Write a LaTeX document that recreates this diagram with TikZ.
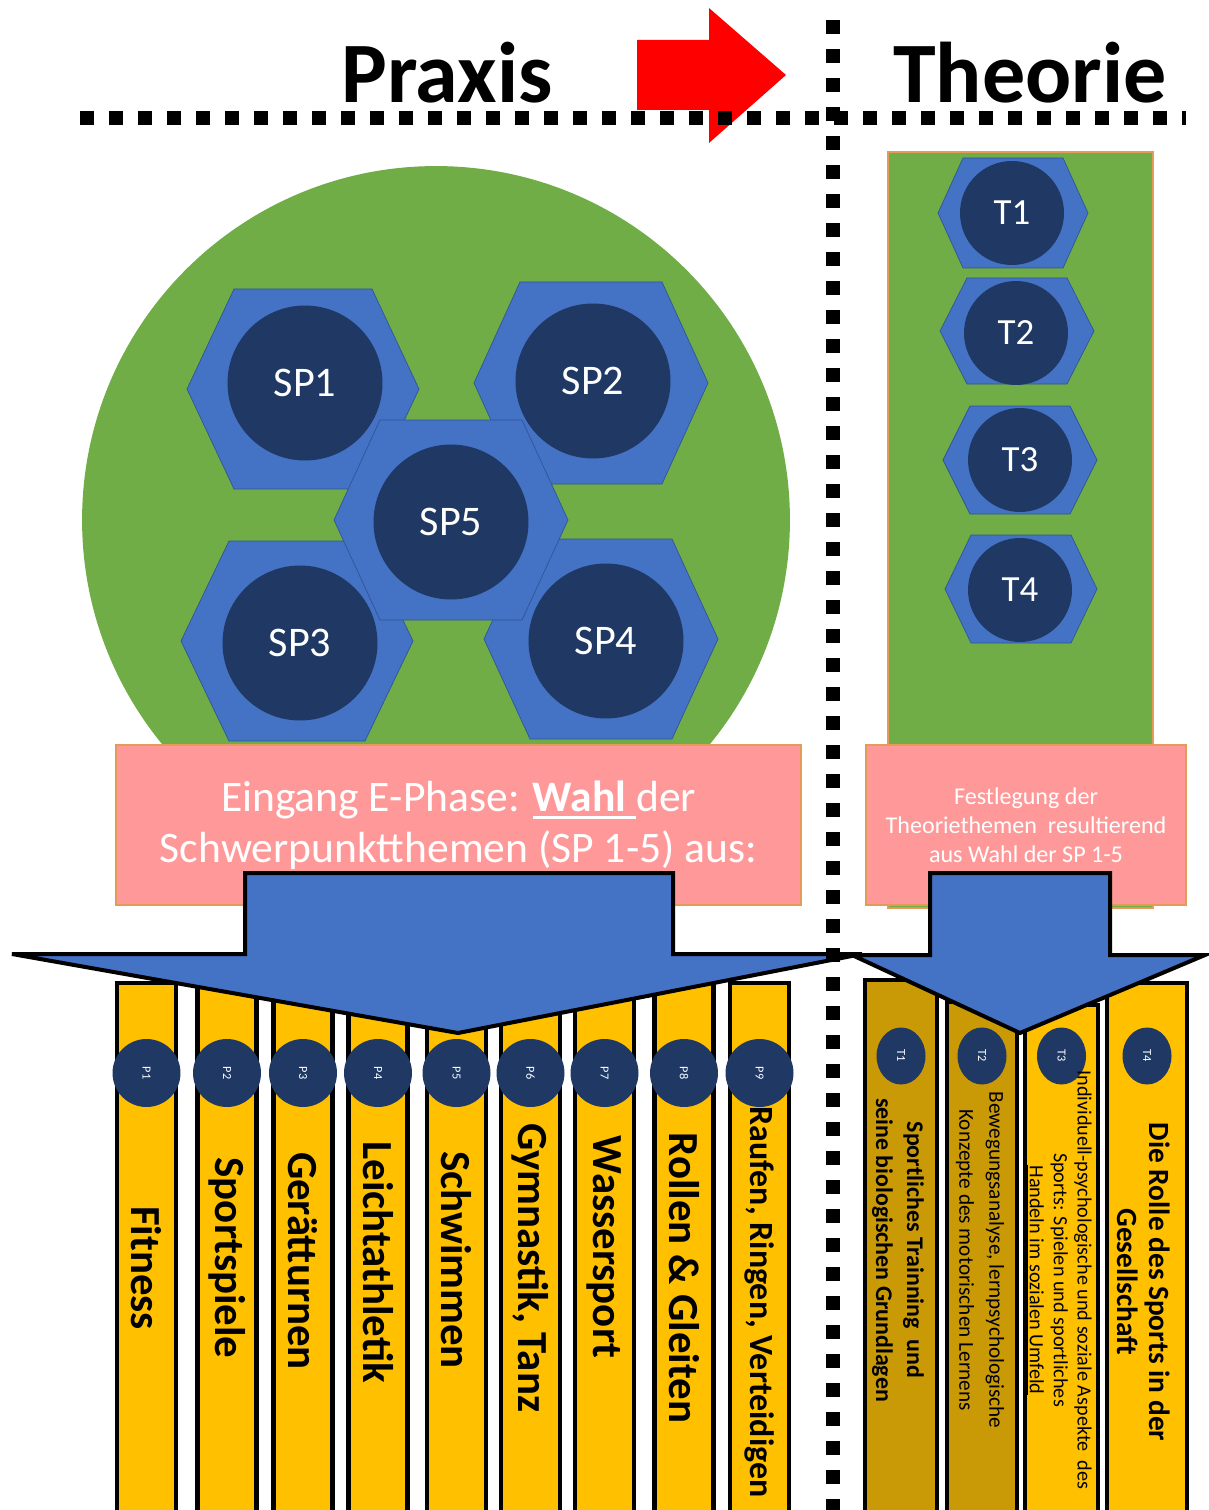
\documentclass[tikz,border=0pt]{standalone}
\usepackage{fontspec}
\setmainfont{Carlito}
\usetikzlibrary{shapes.geometric}
\definecolor{wiese}{HTML}{70AD47}
\definecolor{wabe}{HTML}{4472C4}
\definecolor{wabeline}{HTML}{2F5597}
\definecolor{nacht}{HTML}{1F3864}
\definecolor{rosa}{HTML}{FF9999}
\definecolor{rand}{HTML}{E39B5A}
\definecolor{gelb}{HTML}{FFC000}
\definecolor{ocker}{HTML}{C99A06}
\newcommand\dickunter[1]{\setbox0\hbox{#1}\rlap{\rule[-4.5pt]{\wd0}{1.6pt}}\box0}
\begin{document}
\begin{tikzpicture}[x=0.02cm,y=-0.02cm,
  punkte/.style={line width=0.28cm,dash pattern=on 0.28cm off 0.3cm},
  wabenform/.style={fill=wabe,draw=wabeline,thin},
  spkreis/.style={circle,fill=nacht,text=white,inner sep=0pt,minimum size=3.1cm,font=\fontsize{24}{28}\selectfont},
  tkreis/.style={circle,fill=nacht,text=white,inner sep=0pt,minimum size=2.08cm,font=\fontsize{21}{25}\selectfont},
  feld/.style={fill=rosa,draw=rand,line width=0.04cm,text=white,align=center,inner sep=0pt},
  pfeil/.style={fill=wabe,draw=black,line width=0.08cm,line join=miter},
  saeule/.style={fill=gelb,draw=black,line width=0.09cm},
  pkreis/.style={circle,fill=nacht,text=white,inner sep=0pt,minimum size=1.36cm,rotate=-90,font=\fontsize{7}{8}\selectfont},
  tpunkt/.style={ellipse,fill=nacht,text=white,inner sep=0pt,minimum width=1.14cm,minimum height=0.98cm,rotate=-90,font=\fontsize{7}{8}\selectfont},
  stext/.style={rotate=-90,font=\bfseries\fontsize{24.4}{28}\selectfont},
  ttext/.style={rotate=-90,align=center,inner sep=0pt}]
\useasboundingbox (0,0) rectangle (1208,1510);

% Kopfzeile
\fill[red] (637,40) -- (709,40) -- (709,8) -- (786,75) -- (709,143) -- (709,110) -- (637,110) -- cycle;
\node[anchor=base,font=\bfseries\fontsize{49}{58}\selectfont] (praxis) at (447,103) {Praxis};
\node[anchor=base,font=\bfseries\fontsize{49}{58}\selectfont] (theorie) at (1030,103) {Theorie};

% Schwerpunkte
\fill[wiese] (436,520) circle [radius=7.08cm];
\draw[wiese,fill=wiese] (888,152) rectangle (1153,908);
\draw[rand,line width=0.03cm] (888,152) rectangle (1153,908);
\foreach \mx/\my/\bw/\tw/\bh in {303/389/116/69/100, 591/383/117/71/101, 297/641/116/68/100, 601/639/117/71/100, 451/520/117/71/100,
    1013/213/75/50/55, 1017/331/77/50/53, 1020/460/77/50/54, 1021/589/76/50/54}
  \draw[wabenform] (\mx-\bw,\my) -- (\mx-\tw,\my-\bh) -- (\mx+\tw,\my-\bh) -- (\mx+\bw,\my) -- (\mx+\tw,\my+\bh) -- (\mx-\tw,\my+\bh) -- cycle;
\node[spkreis] (sp1) at (305,383) {SP1};
\node[spkreis] (sp2) at (593,381) {SP2};
\node[spkreis] (sp3) at (300,643) {SP3};
\node[spkreis] (sp4) at (606,641) {SP4};
\node[spkreis] (sp5) at (451,522) {SP5};
\node[tkreis] (t1) at (1012,213) {T1};
\node[tkreis] (t2) at (1016,333) {T2};
\node[tkreis] (t3) at (1020,460) {T3};
\node[tkreis] (t4) at (1020,590) {T4};

\node[feld,minimum width=13.7cm,minimum height=3.2cm,font=\fontsize{24.8}{29}\selectfont] (wahl) at (458.5,825)
  {Eingang E-Phase: \dickunter{\textbf{Wahl}\ }der\\Schwerpunktthemen (SP 1-5) aus:};
\node[feld,minimum width=6.4cm,minimum height=3.2cm,font=\fontsize{13.7}{16.4}\selectfont] (festlegung) at (1026,825)
  {Festlegung der\\Theoriethemen\ \ resultierend\\aus Wahl der SP 1-5};

% Praxisfelder
\foreach \i/\mx/\ty/\txt in {1/146.5/1268/Fitness, 2/227/1258/Sportspiele, 3/303/1261/Gerätturnen,
    4/378/1262/Leichtathletik, 5/456.5/1260/Schwimmen, 6/530.5/1268/{Gymnastik, Tanz},
    7/604.5/1247/Wassersport, 8/684/1278/Rollen \& Gleiten}{
  \draw[saeule] (\mx-29.5,983) rectangle (\mx+29.5,1520);
  \node[pkreis] (p\i) at (\mx,1073) {P\i};
  \node[stext] (pt\i) at (\mx,\ty) {\txt};
}
\draw[saeule] (730,983) rectangle (789,1520);
\node[pkreis] (p9) at (759.5,1073) {P9};
\node[stext,font=\bfseries\fontsize{19.3}{23}\selectfont] (pt9) at (759.5,1302) {Raufen, Ringen, Verteidigen};

% Theoriefelder
\foreach \i/\mx/\hb/\oben/\farbe in {1/901/36/980/ocker, 2/982/35/1002/ocker, 3/1061.5/36.5/1005/gelb, 4/1147/40/983/gelb}{
  \draw[saeule,fill=\farbe] (\mx-\hb,\oben) rectangle (\mx+\hb,1520);
  \node[tpunkt] (tp\i) at (\mx,1056) {T\i};
}
\node[ttext,font=\bfseries\fontsize{13.6}{17.6}\selectfont] (tt1) at (898,1250)
  {Sportliches Trainning\ \ und\\seine biologischen Grundlagen};
\node[ttext,font=\fontsize{12.1}{17}\selectfont] (tt2) at (980,1260)
  {Bewegungsanalyse, lernpsychologische\\Konzepte des motorischen Lernens};
\node[ttext,font=\fontsize{11.5}{13.6}\selectfont] (tt3) at (1059,1280)
  {Individuell-psychologische und soziale Aspekte\ \ des\\Sports: Spielen und sportliches\\\underline{Handeln im sozialen Umfeld}};
\node[ttext,font=\bfseries\fontsize{16.7}{18.2}\selectfont] (tt4) at (1144,1282)
  {Die Rolle des Sports in der\\Gesellschaft};

% Pfeile
\draw[pfeil] (245,873) -- (673,873) -- (673,954) -- (862,954) -- (458,1033) -- (12,954) -- (245,954) -- cycle;
\draw[pfeil] (930,873) -- (1110,873) -- (1110,955) -- (1205,955) -- (1020,1033) -- (852,955) -- (930,955) -- cycle;

% Trennlinien
\draw[punkte] (80,118) -- (1186,118);
\draw[punkte] (833,20) -- (833,1515);
\end{tikzpicture}
\end{document}
